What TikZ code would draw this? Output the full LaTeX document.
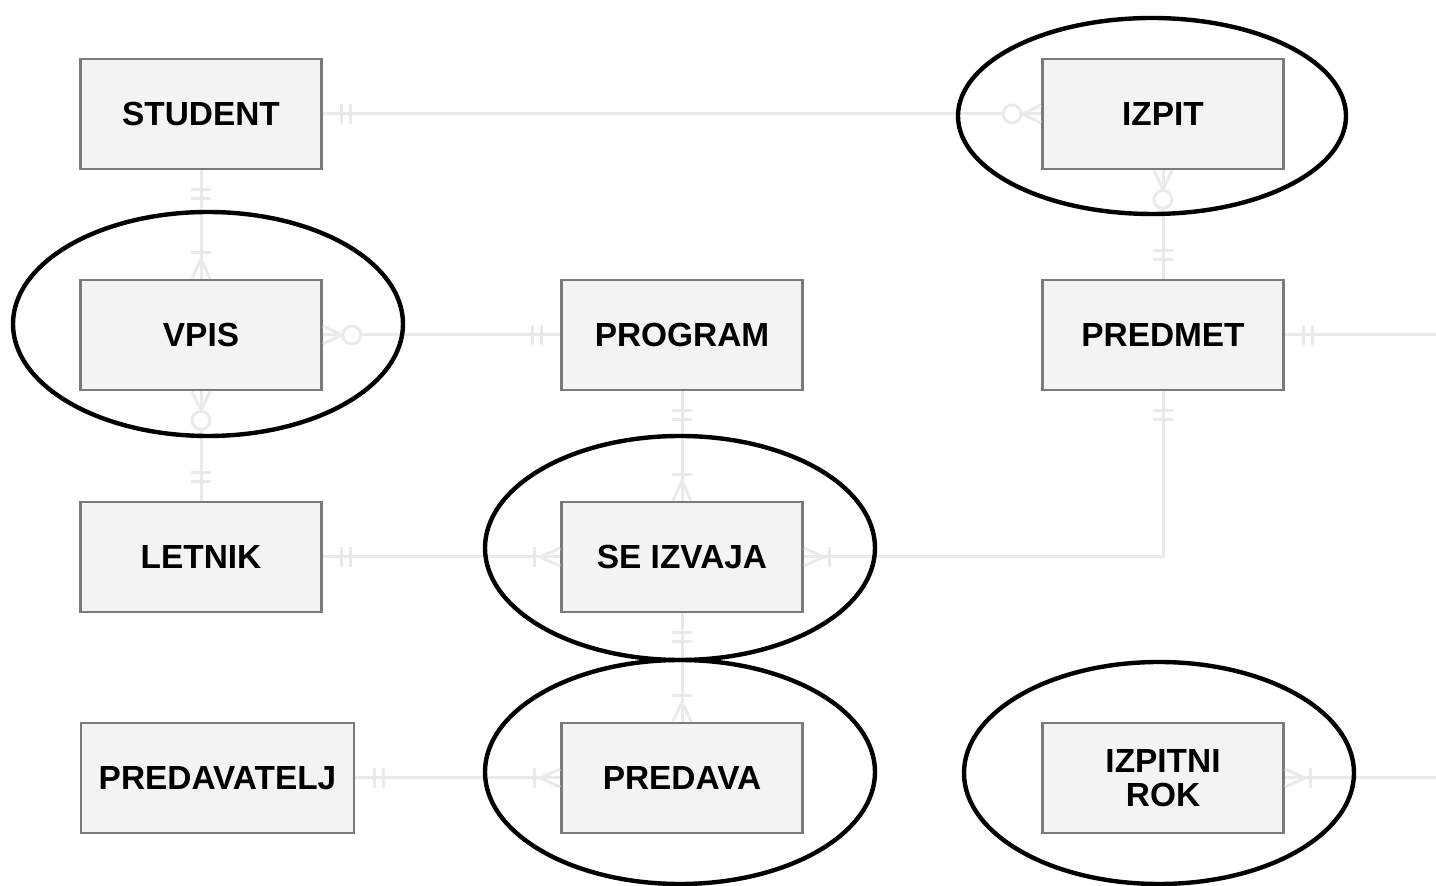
\documentclass[tikz,border=0pt]{standalone}
\usepackage{fontspec}
\setmainfont{Liberation Sans}
\usetikzlibrary{decorations.markings}
\definecolor{boxfill}{HTML}{F3F3F3}
\definecolor{boxline}{HTML}{7A7A7A}
\definecolor{connline}{HTML}{EAEAEA}
\tikzset{
  entity/.style={draw=boxline, fill=boxfill, line width=1.4pt, minimum width=120.5pt, minimum height=55pt,
    inner sep=0pt, align=center, font=\bfseries\fontsize{16.7}{19}\selectfont},
  conn/.style={draw=connline, line width=1.5pt},
  weak/.style={draw=black, line width=2.2pt},
  % crow's foot ends
  one start/.style={postaction={decorate, decoration={markings,
      mark=at position 9.5pt with {\draw[conn] (0,-5pt)--(0,5pt);},
      mark=at position 14pt with {\draw[conn] (0,-5pt)--(0,5pt);}}}},
  one end/.style={postaction={decorate, decoration={markings,
      mark=at position -14pt with {\draw[conn] (0,-5pt)--(0,5pt);},
      mark=at position -9.5pt with {\draw[conn] (0,-5pt)--(0,5pt);}}}},
  many end/.style={postaction={decorate, decoration={markings,
      mark=at position -13pt with {\draw[conn] (0,-5pt)--(0,5pt);},
      mark=at position -10pt with {\draw[conn] (10pt,4.5pt)--(0,0)--(10pt,-4.5pt);}}}},
  zmany start/.style={postaction={decorate, decoration={markings,
      mark=at position 9.5pt with {\draw[conn] (-9.5pt,4.5pt)--(0,0)--(-9.5pt,-4.5pt);},
      mark=at position 14.5pt with {\draw[conn, fill=white] (0,0) circle (4.5pt);}}}},
  zmany end/.style={postaction={decorate, decoration={markings,
      mark=at position -14.5pt with {\draw[conn, fill=white] (0,0) circle (4.5pt);},
      mark=at position -9.5pt with {\draw[conn] (9.5pt,4.5pt)--(0,0)--(9.5pt,-4.5pt);}}}},
}
\begin{document}
\begin{tikzpicture}[x=0.5pt, y=-0.5pt]
  \useasboundingbox (0,0) rectangle (1436,886);
  % entities
  \node[entity] at (201,114) (student) {STUDENT};
  \node[entity] at (1163,114) (izpit) {IZPIT};
  \node[entity] at (201,335) (vpis) {VPIS};
  \node[entity] at (682,335) (program) {PROGRAM};
  \node[entity] at (1163,335) (predmet) {PREDMET};
  \node[entity] at (201,557) (letnik) {LETNIK};
  \node[entity] at (682,557) (seizvaja) {SE IZVAJA};
  \node[entity, minimum width=136.5pt] at (217.5,778) (predavatelj) {PREDAVATELJ};
  \node[entity] at (682,778) (predava) {PREDAVA};
  \node[entity] at (1163,778) (izpitnirok) {IZPITNI\\[-2pt]ROK};
  \coordinate (rightA) at (1436,335);
  \coordinate (rightB) at (1436,778);
  % relationships
  \draw[conn, one start, zmany end] (student) -- (izpit);
  \draw[conn, one start, many end] (student) -- (vpis);
  \draw[conn, zmany start, one end] (izpit) -- (predmet);
  \draw[conn, zmany start, one end] (vpis) -- (program);
  \draw[conn, zmany start, one end] (vpis) -- (letnik);
  \draw[conn, one start, many end] (program) -- (seizvaja);
  \draw[conn, one start] (predmet) -- (rightA);
  \draw[conn, one start, many end] (predmet.south) |- (seizvaja.east);
  \draw[conn, one start, many end] (letnik) -- (seizvaja);
  \draw[conn, one start, many end] (seizvaja) -- (predava);
  \draw[conn, one start, many end] (predavatelj) -- (predava);
  \draw[conn, many end] (rightB) -- (izpitnirok);
  % weak entities
  \draw[weak] (1152,116) ellipse [x radius=97pt, y radius=49pt];
  \draw[weak] (208,324) ellipse [x radius=97.5pt, y radius=56pt];
  \draw[weak] (680,548) ellipse [x radius=97.5pt, y radius=56pt];
  \draw[weak] (680,772) ellipse [x radius=97.5pt, y radius=56pt];
  \draw[weak] (1159,773) ellipse [x radius=97.5pt, y radius=55.5pt];
\end{tikzpicture}
\end{document}
